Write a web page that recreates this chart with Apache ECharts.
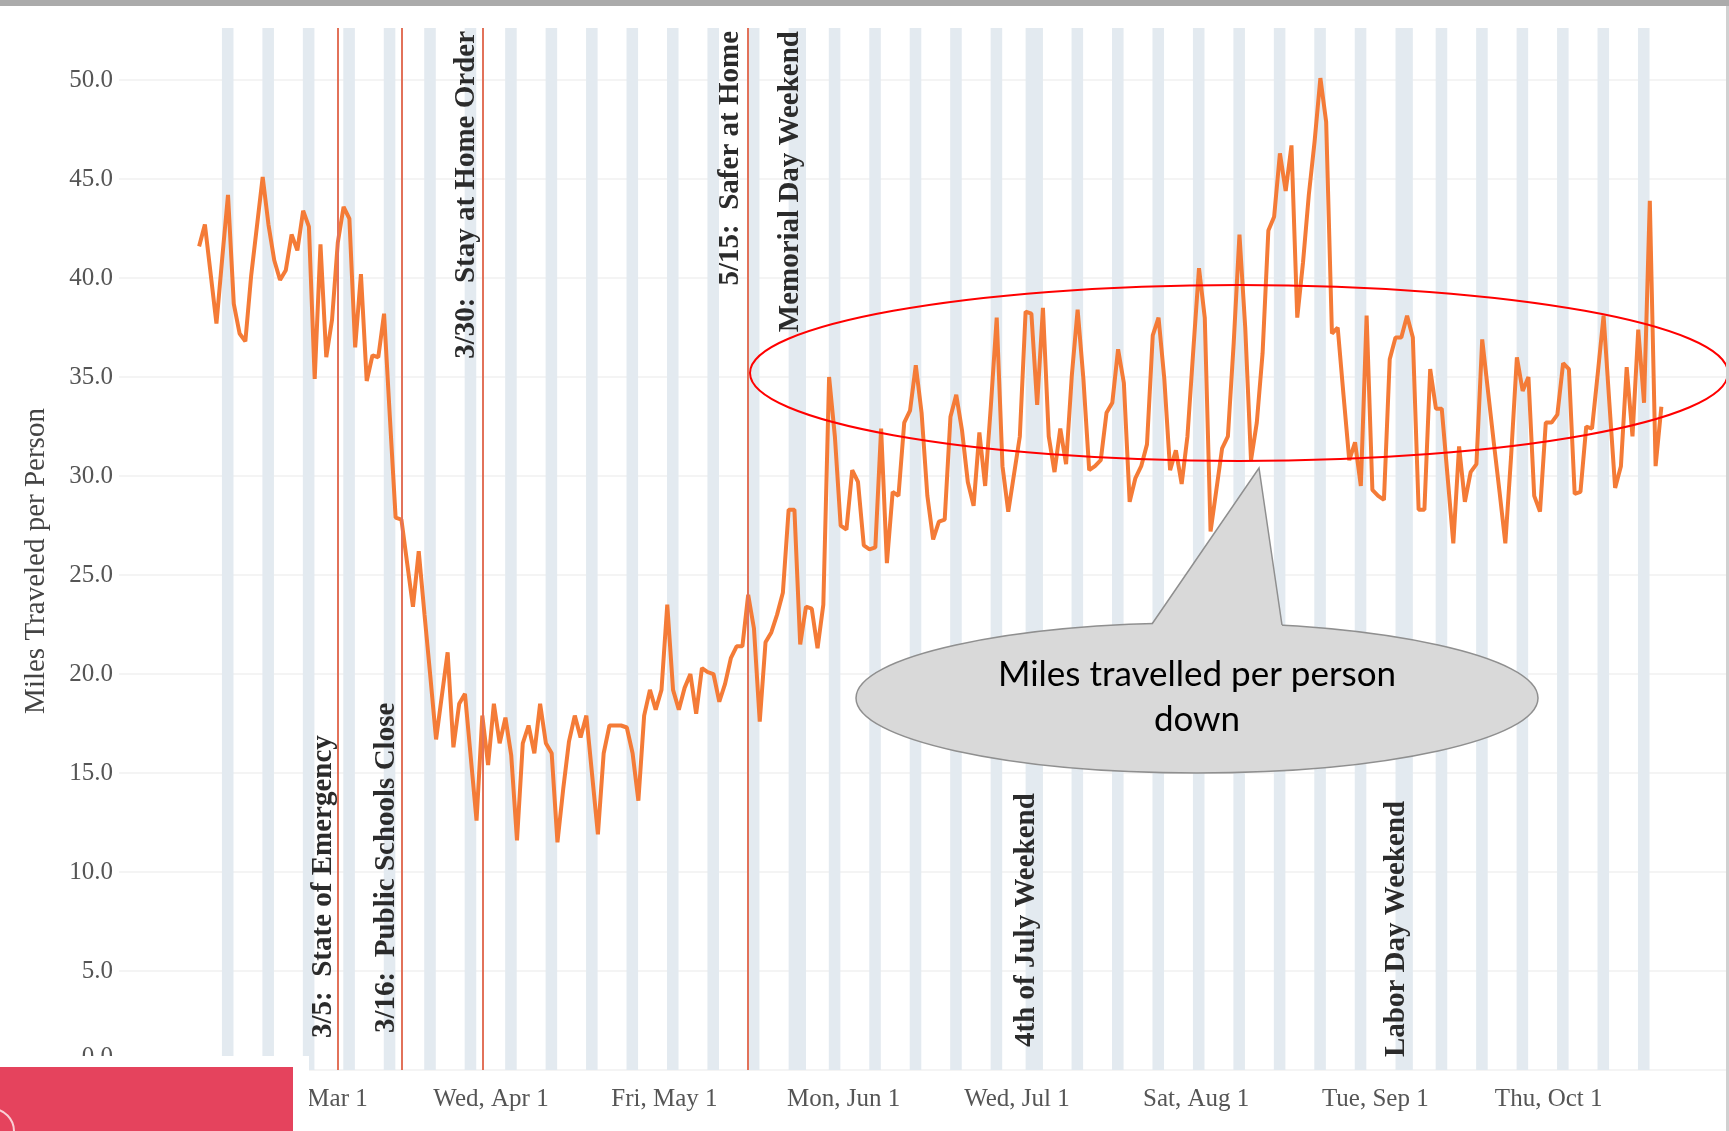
<!DOCTYPE html>
<html>
<head>
<meta charset="utf-8">
<script src="https://cdn.jsdelivr.net/npm/echarts@6/dist/echarts.min.js"></script>
<style>
html,body{margin:0;padding:0;background:#ffffff;}
#chart{width:1729px;height:1131px;}
</style>
</head>
<body>
<div id="chart"></div>
<script>
// Day index is counted from Sun, Mar 1 2020 (day 0). First value is Mon, Feb 10 2020.
const startDay = -20;
const milesPerPerson = [
  41.6, 42.7, 40.2, 37.7, 41.0, 44.2, 38.7, 37.2, 36.8, 40.1,
  42.6, 45.1, 42.7, 40.9, 39.9, 40.4, 42.2, 41.4, 43.4, 42.6,
  34.9, 41.7, 36.0, 37.9, 41.8, 43.6, 43.0, 36.5, 40.2, 34.8,
  36.1, 36.0, 38.2, 33.0, 27.9, 27.8, 25.6, 23.4, 26.2, 23.0,
  19.9, 16.7, 18.9, 21.1, 16.3, 18.5, 19.0, 15.8, 12.6, 17.9,
  15.4, 18.5, 16.5, 17.8, 15.9, 11.6, 16.5, 17.4, 16.0, 18.5,
  16.5, 16.0, 11.5, 14.2, 16.6, 17.9, 16.8, 17.9, 14.9, 11.9,
  16.0, 17.4, 17.4, 17.4, 17.3, 16.0, 13.6, 17.9, 19.2, 18.2,
  19.2, 23.5, 19.2, 18.2, 19.3, 20.0, 18.0, 20.3, 20.1, 20.0,
  18.6, 19.5, 20.8, 21.4, 21.4, 24.0, 22.3, 17.6, 21.6, 22.1,
  23.0, 24.1, 28.3, 28.3, 21.5, 23.4, 23.3, 21.3, 23.5, 35.0,
  32.0, 27.5, 27.3, 30.3, 29.7, 26.5, 26.3, 26.4, 32.4, 25.6,
  29.2, 29.0, 32.7, 33.3, 35.6, 33.2, 29.0, 26.8, 27.7, 27.8,
  33.0, 34.1, 32.3, 29.7, 28.5, 32.2, 29.5, 33.6, 38.0, 30.5,
  28.2, 30.1, 32.0, 38.3, 38.2, 33.6, 38.5, 32.0, 30.2, 32.4,
  30.6, 35.1, 38.4, 34.9, 30.3, 30.5, 30.8, 33.2, 33.7, 36.4,
  34.7, 28.7, 29.9, 30.5, 31.6, 37.1, 38.0, 34.9, 30.3, 31.3,
  29.6, 32.0, 36.3, 40.5, 38.0, 27.2, 29.3, 31.4, 32.0, 36.7,
  42.2, 37.5, 30.8, 32.7, 36.2, 42.4, 43.1, 46.3, 44.4, 46.7,
  38.0, 40.8, 44.2, 46.9, 50.1, 47.9, 37.2, 37.5, 34.1, 30.8,
  31.7, 29.5, 38.1, 29.3, 29.0, 28.8, 35.9, 37.0, 37.0, 38.1,
  37.0, 28.3, 28.3, 35.4, 33.4, 33.4, 30.0, 26.6, 31.5, 28.7,
  30.2, 30.6, 36.9, 34.3, 31.7, 29.2, 26.6, 31.0, 36.0, 34.3,
  35.0, 29.0, 28.2, 32.7, 32.7, 33.1, 35.7, 35.4, 29.1, 29.2,
  32.5, 32.4, 35.2, 38.1, 33.7, 29.4, 30.5, 35.5, 32.0, 37.4,
  33.7, 43.9, 30.5, 33.5
];
const monthTickDays = [0, 31, 61, 92, 122, 153, 184, 214];
const monthTickLabels = ['Sun, Mar 1', 'Wed, Apr 1', 'Fri, May 1', 'Mon, Jun 1', 'Wed, Jul 1', 'Sat, Aug 1', 'Tue, Sep 1', 'Thu, Oct 1'];
const eventDays = [4, 15, 29, 75];
const firstSaturday = -15, lastSaturday = 230;
const holidayWeekends = [[82.5, 85.5], [123.5, 126.5], [187.5, 190.5]];
const holidaySaturdays = [83, 125, 188];

const annotations = [
  {text: '3/5:  State of Emergency', x: 324, y: 1038, anchor: 'bottom'},
  {text: '3/16:  Public Schools Close', x: 387, y: 1033, anchor: 'bottom'},
  {text: '3/30:  Stay at Home Order', x: 467, y: 31, anchor: 'top'},
  {text: '5/15:  Safer at Home', x: 731, y: 31, anchor: 'top'},
  {text: 'Memorial Day Weekend', x: 791, y: 31, anchor: 'top'},
  {text: '4th of July Weekend', x: 1027, y: 1047, anchor: 'bottom'},
  {text: 'Labor Day Weekend', x: 1397, y: 1057, anchor: 'bottom'}
];

const points = milesPerPerson.map((v, i) => [startDay + i + 0.5, v]);

const bands = [];
for (let s = firstSaturday; s <= lastSaturday; s += 7) {
  if (holidaySaturdays.indexOf(s) >= 0) continue;
  bands.push([{xAxis: s - 0.55}, {xAxis: s + 1.45}]);
}
holidayWeekends.forEach(h => bands.push([{xAxis: h[0]}, {xAxis: h[1]}]));

const serif = "'Liberation Serif', 'Times New Roman', serif";

const graphics = [
  {type: 'rect', shape: {x: 0, y: 0, width: 1729, height: 6}, style: {fill: '#ababab'}, z: 100},
  {type: 'rect', shape: {x: 1726, y: 6, width: 3, height: 1125}, style: {fill: '#d0d0d0'}, z: 100}
];
annotations.forEach(a => {
  graphics.push({
    type: 'text', x: a.x, y: a.y, rotation: Math.PI / 2, z: 60,
    style: {
      text: a.text, fontFamily: serif, fontWeight: 'bold', fontSize: 29, fill: '#2b2b2b',
      align: a.anchor === 'bottom' ? 'left' : 'right', verticalAlign: 'middle'
    }
  });
});
graphics.push(
  {type: 'ellipse', shape: {cx: 1239, cy: 373, rx: 489, ry: 88}, style: {fill: null, stroke: '#ff0000', lineWidth: 2}, z: 70},
  {type: 'ellipse', shape: {cx: 1197, cy: 698, rx: 341, ry: 75}, style: {fill: '#d9d9d9', stroke: '#8f8f8f', lineWidth: 1.5}, z: 80},
  {type: 'polygon', shape: {points: [[1152, 624], [1259, 468], [1282, 625], [1282, 634], [1152, 634]]}, style: {fill: '#d9d9d9'}, z: 81},
  {type: 'polyline', shape: {points: [[1152, 624], [1259, 468], [1282, 625]]}, style: {fill: null, stroke: '#8f8f8f', lineWidth: 1.5}, z: 82},
  {type: 'text', x: 1197, y: 697, z: 83,
    style: {text: 'Miles travelled per person\ndown', fontFamily: "Lato, 'Open Sans', sans-serif", fontSize: 35, lineHeight: 45, fill: '#000000', align: 'center', verticalAlign: 'middle'}},
  {type: 'rect', shape: {x: 0, y: 1056, width: 309, height: 75}, style: {fill: '#ffffff'}, z: 90},
  {type: 'rect', shape: {x: 0, y: 1067, width: 293, height: 64}, style: {fill: '#e5435d'}, z: 91},
  {type: 'circle', shape: {cx: -8, cy: 1131, r: 22}, style: {fill: null, stroke: 'rgba(255,255,255,0.75)', lineWidth: 2}, z: 92}
);

const chart = echarts.init(document.getElementById('chart'), null, {renderer: 'canvas', width: 1729, height: 1131});
chart.setOption({
  animation: false,
  backgroundColor: '#ffffff',
  grid: {left: 119, right: 0, top: 28, bottom: 61, containLabel: false},
  xAxis: {
    type: 'value', min: -33.36, max: 245.2,
    axisLine: {show: false}, axisTick: {show: false}, splitLine: {show: false},
    axisLabel: {
      customValues: monthTickDays,
      formatter: v => { const i = monthTickDays.indexOf(Math.round(v)); return i >= 0 ? monthTickLabels[i] : ''; },
      fontFamily: serif, fontSize: 25, color: '#555555', margin: 17
    }
  },
  yAxis: {
    type: 'value', min: 0, max: 52.63, interval: 5,
    name: 'Miles Traveled per Person', nameLocation: 'middle', nameRotate: 90, nameGap: 68,
    nameTextStyle: {fontFamily: serif, fontSize: 29, color: '#444444', padding: [0, 24, 0, 0]},
    axisLine: {show: false}, axisTick: {show: false},
    axisLabel: {formatter: v => v.toFixed(1), fontFamily: serif, fontSize: 25, color: '#555555', margin: 6,
      showMaxLabel: false, verticalAlignMinLabel: 'bottom'},
    splitLine: {show: true, showMaxLine: false, lineStyle: {color: '#f0f0f0', width: 1.5}}
  },
  series: [
    {
      name: 'weekends', type: 'line', data: [], z: 1, silent: true,
      markArea: {silent: true, itemStyle: {color: '#e3eaf0'}, data: bands}
    },
    {
      name: 'events', type: 'line', data: [], z: 2, silent: true,
      markLine: {
        silent: true, symbol: ['none', 'none'], label: {show: false},
        lineStyle: {color: '#e2725a', width: 2, type: 'solid'},
        data: eventDays.map(d => ({xAxis: d + 0.5}))
      }
    },
    {
      name: 'Miles Traveled per Person', type: 'line', data: points, z: 3,
      showSymbol: false, symbol: 'none',
      lineStyle: {color: '#f47b37', width: 4}
    }
  ],
  graphic: graphics
});
</script>
</body>
</html>
